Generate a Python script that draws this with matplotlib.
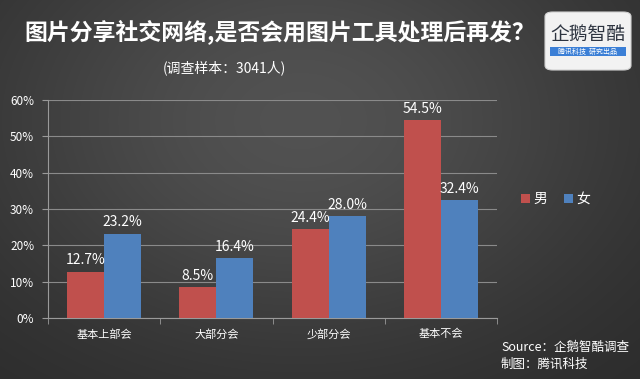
import numpy as np
import matplotlib.pyplot as plt
from matplotlib.patches import FancyBboxPatch, Rectangle

plt.rcParams['font.family'] = ['Noto Sans CJK SC', 'DejaVu Sans']

categories = ["基本上部会", "大部分会", "少部分会", "基本不会"]
male = [12.7, 8.5, 24.4, 54.5]
female = [23.2, 16.4, 28.0, 32.4]
yticks = [0, 10, 20, 30, 40, 50, 60]

W, H = 640, 379
fig = plt.figure(figsize=(W / 100, H / 100), dpi=100)

# dark radial background
bg = fig.add_axes([0, 0, 1, 1], zorder=-10)
yy, xx = np.mgrid[0:H, 0:W]
d = ((xx - 300) / 420.0) ** 2 + ((yy - 120) / 300.0) ** 2
shade = 0.16 + 0.16 * np.exp(-d * 1.6)
bg.imshow(np.dstack([shade] * 3), extent=[0, W, H, 0], aspect='auto')
bg.set_xlim(0, W)
bg.set_ylim(H, 0)
bg.axis('off')

# titles
fig.text(280 / W, 1 - 33 / H, "图片分享社交网络,是否会用图片工具处理后再发？", color='white',
         fontsize=16.5, fontweight='bold', ha='center', va='center')
fig.text(224 / W, 1 - 68 / H, "(调查样本：3041人)", color='white', fontsize=10,
         ha='center', va='center')

# logo box
box = FancyBboxPatch((545 / W, 1 - 70 / H), 86 / W, 58 / H, transform=fig.transFigure,
                     boxstyle="round,pad=0,rounding_size=0.012", facecolor='#f2f2f2',
                     edgecolor='#d0d0d0', lw=0.8)
fig.patches.append(box)
fig.text(588 / W, 1 - 34 / H, "企鹅智酷", color='#2d3440', fontsize=13.5, ha='center', va='center')
fig.patches.append(Rectangle((550 / W, 1 - 56 / H), 76 / W, 9 / H, transform=fig.transFigure,
                             facecolor='#3b7fd6', edgecolor='none'))
fig.text(588 / W, 1 - 51.5 / H, "腾讯科技  研究出品", color='white', fontsize=5,
         ha='center', va='center')

# main chart
ax = fig.add_axes([48 / W, 1 - 318 / H, 449 / W, 218 / H])
ax.set_facecolor('none')
x = np.arange(len(categories))
bw = 0.33
b1 = ax.bar(x - bw / 2, male, bw, color='#c0504d', label='男', zorder=3)
b2 = ax.bar(x + bw / 2, female, bw, color='#4f81bd', label='女', zorder=3)
for bars, vals in ((b1, male), (b2, female)):
    for b, v in zip(bars, vals):
        ax.text(b.get_x() + b.get_width() / 2, v + 1.2, f"{v:.1f}%", color='white',
                fontsize=10, ha='center', va='bottom')

ax.set_xlim(-0.5, len(categories) - 0.5)
ax.set_ylim(0, 60)
ax.set_yticks(yticks)
ax.set_yticklabels([f"{t}%" for t in yticks])
ax.yaxis.grid(True, color='#8a8a8a', lw=0.8, zorder=0)
ax.set_xticks(x)
ax.set_xticklabels(categories)
ax.set_xticks(np.arange(len(categories) + 1) - 0.5, minor=True)
ax.tick_params(axis='x', which='major', length=0, colors='white', labelsize=8, pad=8)
ax.tick_params(axis='x', which='minor', length=4, color='#9a9a9a', direction='out')
ax.tick_params(axis='y', length=4, color='#9a9a9a', colors='white', labelsize=8.5, pad=6)
for s in ('top', 'right'):
    ax.spines[s].set_visible(False)
for s in ('left', 'bottom'):
    ax.spines[s].set_color('#9a9a9a')
    ax.spines[s].set_linewidth(0.8)

leg = fig.legend(handles=[b1, b2], loc='center', bbox_to_anchor=(556 / W, 1 - 199 / H), ncol=2,
                 frameon=False, fontsize=10, handlelength=0.6, handleheight=0.6,
                 handletextpad=0.3, columnspacing=1.2, labelcolor='white')

fig.text(501 / W, 1 - 347 / H, "Source：企鹅智酷调查", color='white', fontsize=9,
         style='italic', ha='left', va='center')
fig.text(501 / W, 1 - 364 / H, "制图：腾讯科技", color='white', fontsize=9,
         style='italic', ha='left', va='center')

fig.savefig('out.png', dpi=100)
